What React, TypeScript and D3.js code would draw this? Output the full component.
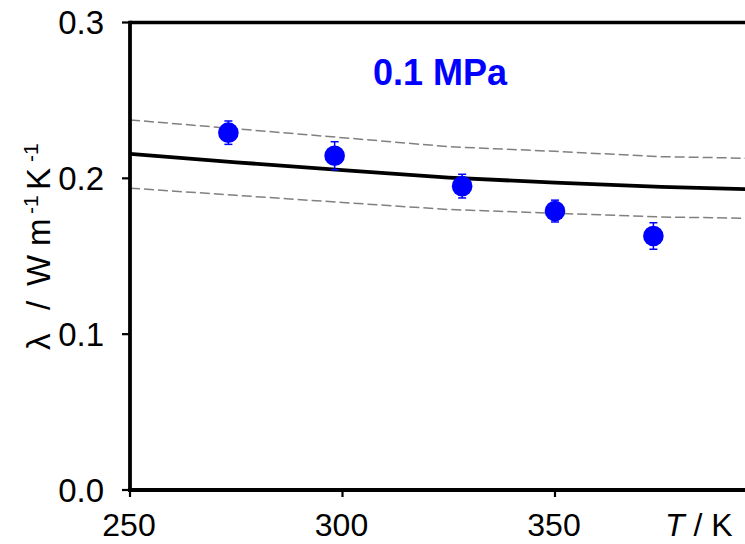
import React from "react";
import * as d3 from "d3";

const W = 745;
const H = 544;

// Experimental data (T / K, λ / W m-1 K-1, uncertainty)
const expT = [273.15, 298.15, 328.15, 350, 373.15];
const expLambda = [0.2293, 0.2145, 0.195, 0.179, 0.163];
const expErr = [0.0075, 0.009, 0.0076, 0.007, 0.0085];

// Correlation line and ±10 % band
const lineT = [250, 275, 300, 325, 350, 375, 395, 400];
const lineMid = [0.2157, 0.2103, 0.2053, 0.2005, 0.1972, 0.1945, 0.193, 0.1926];
const lineUpper = [0.2375, 0.2318, 0.2261, 0.2203, 0.2173, 0.2139, 0.2129, 0.2125];
const lineLower = [0.1937, 0.1891, 0.1845, 0.18, 0.1776, 0.1752, 0.1744, 0.1741];

const xTicks = [250, 300, 350];
const yTicks = [0.0, 0.1, 0.2, 0.3];

const FONT = "'Liberation Sans', Arial, Helvetica, sans-serif";

export default function App() {
  const x = d3.scaleLinear().domain([250, 350]).range([130, 555]);
  const y = d3.scaleLinear().domain([0, 0.3]).range([490, 22.5]);

  const mk = (vals: number[]) =>
    d3
      .line<number>()
      .x((_, i) => x(lineT[i]))
      .y((d) => y(d))(vals) as string;

  const blue = "#0000ff";

  return (
    <svg
      width={W}
      height={H}
      style={{ position: "absolute", left: 0, top: 0, display: "block", background: "#fff" }}
      fontFamily={FONT}
    >
      <rect x={0} y={0} width={W} height={H} fill="#fff" />
      <defs>
        <clipPath id="plot">
          <rect x={130} y={22.5} width={W} height={490 - 22.5} />
        </clipPath>
      </defs>

      {/* band lines */}
      <g clipPath="url(#plot)">
        <path d={mk(lineUpper)} fill="none" stroke="#808080" strokeWidth={1.5} strokeDasharray="10,4" />
        <path d={mk(lineLower)} fill="none" stroke="#808080" strokeWidth={1.5} strokeDasharray="10,4" />
        <path d={mk(lineMid)} fill="none" stroke="#000" strokeWidth={3.8} />
      </g>

      {/* axes frame */}
      <line x1={130} x2={W + 5} y1={y(0.3)} y2={y(0.3)} stroke="#000" strokeWidth={3.6} />
      <line x1={130} x2={130} y1={y(0.3) - 1.8} y2={y(0) + 1.8} stroke="#000" strokeWidth={3.8} />
      <line x1={128} x2={W + 5} y1={y(0)} y2={y(0)} stroke="#000" strokeWidth={3.8} />

      {/* y ticks */}
      {yTicks.map((t) => (
        <g key={"y" + t}>
          <line x1={122} x2={130} y1={y(t)} y2={y(t)} stroke="#000" strokeWidth={2.2} />
          <text x={104} y={y(t) + 11.5} fontSize={33} textAnchor="end" fill="#000">
            {t.toFixed(1)}
          </text>
        </g>
      ))}

      {/* x ticks */}
      {xTicks.map((t) => (
        <g key={"x" + t}>
          <line x1={x(t)} x2={x(t)} y1={y(0)} y2={y(0) + 7} stroke="#000" strokeWidth={2.2} />
          <text x={x(t) - 1} y={536} fontSize={32} textAnchor="middle" fill="#000">
            {t}
          </text>
        </g>
      ))}

      {/* x axis title */}
      <text x={665} y={536} fontSize={32} fill="#000">
        <tspan fontStyle="italic">T</tspan>
        <tspan> / K</tspan>
      </text>

      {/* y axis title */}
      <g transform="translate(50, 350) rotate(-90)">
        <text fontSize={33} fill="#000">
          <tspan x={0} y={0}>λ</tspan>
          <tspan x={40} y={0}>/</tspan>
          <tspan x={64} y={0}>W</tspan>
          <tspan x={104} y={0}>m</tspan>
          <tspan x={136} y={-12} fontSize={21}>-1</tspan>
          <tspan x={160} y={0}>K</tspan>
          <tspan x={188} y={-12} fontSize={21}>-1</tspan>
        </text>
      </g>

      {/* data points */}
      {expT.map((t, i) => {
        const cx = x(t);
        const cy = y(expLambda[i]);
        const top = y(expLambda[i] + expErr[i]);
        const bot = y(expLambda[i] - expErr[i]);
        return (
          <g key={"p" + i}>
            <line x1={cx} x2={cx} y1={top} y2={bot} stroke={blue} strokeWidth={1.5} />
            <line x1={cx - 4} x2={cx + 4} y1={top} y2={top} stroke={blue} strokeWidth={1.5} />
            <line x1={cx - 4} x2={cx + 4} y1={bot} y2={bot} stroke={blue} strokeWidth={1.5} />
            <circle cx={cx} cy={cy} r={10.3} fill={blue} />
          </g>
        );
      })}

      {/* pressure label */}
      <text x={373} y={85} fontSize={36} fontWeight="bold" fill={blue}>
        0.1 MPa
      </text>
    </svg>
  );
}
